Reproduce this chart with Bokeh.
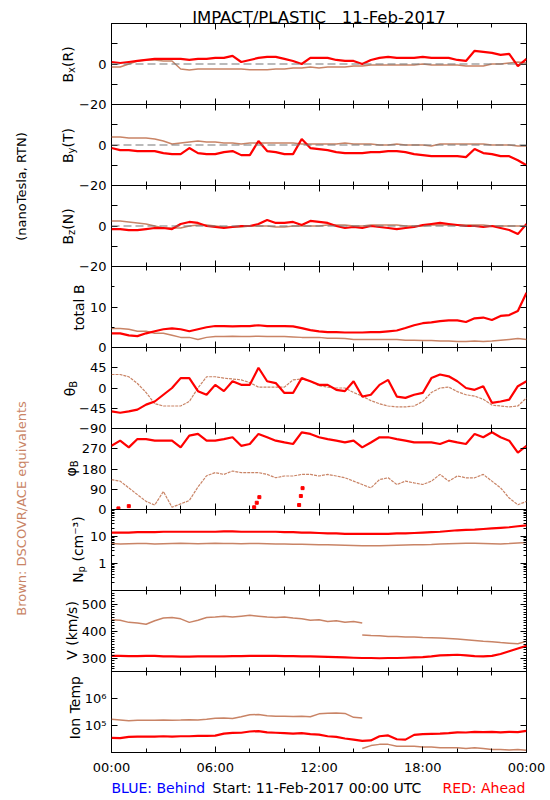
import numpy as np
from bokeh.plotting import figure
from bokeh.layouts import column, row
from bokeh.models import Range1d, FixedTicker, LinearAxis, LogAxis, Span
from bokeh.embed import file_html
from bokeh.resources import INLINE
from bokeh.core.properties import value

# ---------------- data (half-hour samples, 00:00 .. 24:00) ----------------
hours = np.arange(0, 24.01, 0.5)

bx_red = [1, 0.5, 1, 1.5, 2, 2.5, 2.5, 2.5, 2.5, 2, 2.5, 2.5,
          3, 3, 4, 1, 2, 3, 3.5, 3.5, 2.5, 1.5, 0, 3,
          3, 3, 2, 1.5, 1.5, 0, 2, 3, 3.5, 3, 3, 3,
          3.5, 3, 3, 3, 2, 1.5, 6.5, 6, 5.5, 4.5, 5, -1,
          2.5]
bx_brown = [-1.5, -1.5, 0, 1.5, 2, 2, 1.5, 1.5, -2.5, -3, -2.5, -2.5,
            -2.5, -2.5, -2.5, -2.5, -2.8, -2.8, -2.8, -2.5, -2.5, -2, -2, -1.5,
            -2, -1.5, -1.5, -1.5, -1, -1, -0.5, -0.5, -0.5, -0.5, -0.5, -0.5,
            0, -0.5, -0.5, -0.5, -0.5, -1, -1, -1, 0, 0, 0.5, 1,
            0.5]
by_red = [-1.5, -2.5, -2.5, -3, -3, -3, -4, -4.5, -4.5, -1.5, -4, -4.5,
          -4.5, -3.5, -3, -5, -5, 2, -3, -3.5, -4.5, -4.5, 3, -1.5,
          -2, -2.5, -3.5, -4, -4, -4, -3.5, -3.5, -3, -3, -3.5, -4.5,
          -5, -5.5, -5.5, -5.5, -5.5, -6, -2, -4, -4.5, -5.5, -5.5, -7.5,
          -10]
by_brown = [4, 4, 3.5, 3.5, 3.5, 3, 2, 0.5, 1, 1.5, 2, 1.5,
            1.5, 1, 1, 0.5, 1, 1, 1, 1, 1, 1, 0.5, 0.5,
            0.5, 0.5, 0.5, 1, 0.5, 0.5, 0.5, 0, 0, 0.5, 0, 0,
            0, -0.5, 0.5, 0.5, 0.5, 0.5, 0.5, 0.5, 0, 0, 0, -0.5,
            -0.5]
bz_red = [-1.5, -1.5, -2, -2, -1.5, -1, -1, -1.5, 1, 2, 1.5, 0,
          -0.5, -1, -0.5, 0, 0, 1, 3, 1.5, 1.5, 2, 0.5, 2.5,
          2, 1.5, 0, -1, -0.5, -1, 0, -0.5, -1, -1.5, -1, -0.5,
          0.5, 1, 1.5, 1, 0.5, 0, 0, -0.5, 0, -1, -2, -4,
          1]
bz_brown = [2.5, 2.5, 2, 1.5, 1, 0, -1, -1, -1, 0, 0.5, 0.5,
            0, -0.5, -0.5, -0.5, 0, 0, 0, -0.5, -0.5, 0, 0, 0,
            0, 0.5, 0.5, 0.5, 0, 0, 0.5, 0.5, 0.5, 0.5, 0, 0,
            0, 0.5, 0.5, 0.5, 0.5, 0.5, 0.5, 0.5, 0, 0, 0, 0,
            0]
bt_red = [3.5, 3.5, 3, 2.8, 3.5, 4, 4.5, 4.7, 4.5, 4, 4.5, 5,
          5.3, 5.3, 5.2, 5.3, 5.3, 5.5, 5.3, 5.3, 5.3, 5.2, 4.8, 4.3,
          4, 3.8, 3.8, 3.7, 3.7, 3.7, 3.8, 3.8, 4, 4.2, 4.8, 5.5,
          6, 6.2, 6.5, 6.7, 6.7, 6.3, 7.2, 7.4, 6.8, 7.8, 8, 9,
          13.5]
bt_brown = [4.7, 4.7, 4.5, 4, 4, 3.5, 3.5, 3, 2.5, 2.5, 2, 2.5,
            2.7, 2.7, 2.8, 2.7, 2.7, 2.8, 2.7, 2.7, 2.7, 2.6, 2.5, 2.5,
            2.5, 2.3, 2.3, 2.2, 2, 2, 2, 2, 2, 2, 1.8, 1.8,
            1.7, 1.7, 1.6, 1.6, 1.5, 1.5, 1.6, 1.5, 1.6, 1.8, 2, 2.2,
            2]
theta_red = [-52, -55, -52, -48, -37, -30, -15, 0, 22, 22, -7, -15,
             7, -7, 15, 7, 7, 45, 15, 11, -11, -11, 22, 15,
             7, 7, -4, -7, 15, -19, -15, 7, 18, -19, -22, -15,
             -11, 22, 30, 26, 15, 0, -4, 4, -33, -30, -26, 4,
             15]
theta_brown = [30, 30, 25, 10, -10, -35, -40, -40, -40, -30, 0, 25,
               25, 22, 20, 18, 12, 2, 2, 2, 2, 18, 20, 15,
               5, 2, 0, 0, -10, -18, -28, -35, -40, -42, -42, -40,
               -30, -10, 0, 2, -8, -15, -18, -25, -38, -40, -42, -40,
               -22]
phi_red = [283, 306, 276, 313, 313, 306, 306, 306, 276, 328, 336, 306,
           306, 313, 321, 283, 291, 336, 321, 306, 298, 291, 343, 336,
           321, 313, 306, 298, 306, 276, 298, 321, 321, 313, 306, 298,
           298, 298, 291, 306, 298, 291, 336, 321, 343, 321, 306, 253,
           283]
phi_brown = [133, 126, 96, 66, 36, 20, 80, 10, 25, 40, 100, 150,
             164, 156, 171, 164, 164, 164, 156, 141, 149, 149, 156, 156,
             149, 156, 149, 141, 126, 111, 96, 133, 141, 111, 126, 118,
             111, 126, 156, 126, 149, 141, 141, 156, 126, 96, 51, 21,
             36]
phi_red_wrap_hours = [0.4, 1.0, 8.25, 8.4, 8.55, 10.85, 10.95, 11.05]
phi_red_wrap = [5, 15, 10, 30, 55, 20, 60, 95]
np_red = [14, 14, 14, 14.5, 14.5, 14.5, 15, 15, 15, 15, 15, 15,
          15, 15.5, 15.5, 15, 15, 15, 15, 15, 14.5, 14.5, 14, 14,
          13.5, 13, 13, 12.5, 12.5, 12.5, 12.5, 12.5, 12.5, 13, 13, 13.5,
          14, 14.5, 15, 16, 17, 17.5, 18, 19, 20, 21, 22, 24,
          26]
np_brown = [5.5, 5.3, 5.4, 5.5, 5.5, 5.3, 5.4, 5.5, 5.6, 5.5, 5.4, 5.5,
            5.6, 5.5, 5.5, 5.4, 5.5, 5.5, 5.4, 5.3, 5.3, 5.2, 5.2, 5.1,
            5.0, 4.9, 4.8, 4.7, 4.6, 4.5, 4.5, 4.5, 4.6, 4.7, 4.8, 4.9,
            5.0, 5.1, 5.3, 5.4, 5.5, 5.6, 5.6, 5.5, 5.4, 5.3, 5.5, 5.8,
            6.0]
v_red = [308, 308, 307, 307, 308, 308, 306, 306, 305, 305, 306, 306,
         306, 306, 307, 307, 308, 308, 308, 308, 307, 307, 306, 306,
         305, 304, 303, 302, 301, 300, 300, 299, 300, 300, 301, 302,
         303, 306, 310, 311, 312, 310, 307, 306, 308, 315, 325, 335,
         345]
v_brown_a = [442, 440, 432, 430, 425, 438, 448, 450, 445, 432, 440, 450,
             452, 455, 452, 455, 458, 455, 452, 450, 452, 448, 445, 440,
             442, 435, 438, 432, 435, 430]            # 00:00 .. 14:30
v_brown_b = [385, 383, 382, 380, 380, 378, 378, 376, 375, 374,
             372, 370, 368, 365, 362, 360, 357, 355, 353, 362]   # 14:30 .. 24:00
t_red = [35000, 34000, 38000, 39000, 39000, 39000, 40000, 39000, 40000, 40000, 41000, 41000,
         42000, 50000, 53000, 54000, 60000, 62000, 56000, 54000, 52000, 50000, 52000, 48000,
         46000, 40000, 38000, 33000, 30000, 27000, 28000, 40000, 43000, 31000, 30000, 45000,
         48000, 49000, 50000, 52000, 56000, 55000, 58000, 57000, 58000, 56000, 58000, 57000,
         63000]
t_brown_a = [170000, 160000, 150000, 155000, 155000, 158000, 160000, 158000, 160000, 165000,
             160000, 170000, 185000, 190000, 180000, 210000, 250000, 255000, 230000, 220000,
             220000, 215000, 220000, 210000, 270000, 285000, 290000, 280000, 200000, 190000]
t_brown_b = [14000, 18000, 20000, 20000, 17000, 17000, 17000, 16000, 16000, 15000,
             15000, 15000, 14000, 15000, 14000, 13000, 13000, 12500, 13000, 12000]

x_major = [0, 6, 12, 18, 24]
x_minor = [0, 2, 4, 6, 8, 10, 12, 14, 16, 18, 20, 22, 24]
x_labels = {0: "00:00", 6: "06:00", 12: "12:00", 18: "18:00", 24: "00:00"}

# ---------------- styling ----------------
RED = "#ff0000"
BROWN = "#c98466"
FONT = "DejaVu Sans"
FRAME_W, FRAME_H = 415, 81
BL, BR, OV = 35, 19, 7
PAGE_W, PAGE_H = 545, 795          # background text layer, page pixels from the top-left
PANEL_W = BL + FRAME_W + BR
FRAME_LEFT, TOP = 111, 23          # page position of the first panel's frame


def style_axis(ax, labels=None, font_size="13px", standoff=5, tin=6, mtin=3):
    ax.axis_line_color = None
    ax.major_tick_in = tin
    ax.major_tick_out = 0
    ax.minor_tick_in = mtin
    ax.minor_tick_out = 0
    ax.major_tick_line_color = "black"
    ax.minor_tick_line_color = "black"
    if labels is not None:
        ax.major_label_overrides = labels
        ax.major_label_text_font = FONT
        ax.major_label_text_font_size = font_size
        ax.major_label_text_color = "black"
        ax.major_label_standoff = standoff
    else:
        ax.major_label_text_color = None
        ax.major_label_text_font_size = "1px"
        ax.major_label_standoff = 0


def make_panel(i, yr, log, ticks, minor, labels, last=False):
    kw = dict(frame_width=FRAME_W, frame_height=FRAME_H, x_range=Range1d(0, 24), y_range=yr,
              output_backend="svg", toolbar_location=None, tools="",
              x_axis_location=None, y_axis_location=None,
              min_border_left=BL, min_border_right=BR, min_border_top=0,
              min_border_bottom=(23 if last else OV),
              background_fill_color=None, border_fill_color=None,
              outline_line_color="black", outline_line_width=1)
    if log:
        kw["y_axis_type"] = "log"
    if i > 0:
        kw["margin"] = (-OV, 0, 0, 0)
    p = figure(**kw)
    p.grid.visible = False
    Ax = LogAxis if log else LinearAxis
    yt = FixedTicker(ticks=ticks, minor_ticks=minor)
    left = Ax(ticker=yt)
    style_axis(left, labels)
    p.add_layout(left, "left")
    right = Ax(ticker=yt)
    style_axis(right)
    p.add_layout(right, "right")
    xt = FixedTicker(ticks=x_major, minor_ticks=x_minor)
    below = LinearAxis(ticker=xt)
    style_axis(below, x_labels if last else None, standoff=7, tin=6, mtin=4)
    p.add_layout(below, "below")
    above = LinearAxis(ticker=xt)
    style_axis(above, None, tin=6, mtin=4)
    p.add_layout(above, "above")
    return p


def zero_line(p):
    p.add_layout(Span(location=0, dimension="width", line_color="#777777",
                      line_dash="8 4", line_width=1.2))


b_ticks = [-20, -10, 0, 10, 20]
b_labels = {-20: "\u221220", -10: "", 0: "0", 10: "", 20: ""}

panels = []
# Bx, By, Bz
for i, (rd, br) in enumerate([(bx_red, bx_brown), (by_red, by_brown), (bz_red, bz_brown)]):
    p = make_panel(i, Range1d(-20, 20), False, b_ticks, [], b_labels)
    zero_line(p)
    p.line(hours, br, line_color=BROWN, line_width=1.5)
    p.line(hours, rd, line_color=RED, line_width=2.2)
    panels.append(p)

# total B
p = make_panel(3, Range1d(0, 20), False, [0, 10, 20], [5, 15], {0: "0", 10: "10", 20: ""})
p.line(hours, bt_brown, line_color=BROWN, line_width=1.5)
p.line(hours, bt_red, line_color=RED, line_width=2.2)
panels.append(p)

# theta
p = make_panel(4, Range1d(-90, 90), False, [-90, -45, 0, 45, 90], [],
               {-90: "\u221290", -45: "\u221245", 0: "0", 45: "45", 90: ""})
p.line(hours, theta_brown, line_color=BROWN, line_width=1.2, line_dash="3 1")
p.line(hours, theta_red, line_color=RED, line_width=2.2)
panels.append(p)

# phi
p = make_panel(5, Range1d(0, 360), False, [0, 90, 180, 270, 360], [],
               {0: "0", 90: "90", 180: "180", 270: "270", 360: ""})
p.line(hours, phi_brown, line_color=BROWN, line_width=1.2, line_dash="3 1")
p.line(hours, phi_red, line_color=RED, line_width=2.2)
p.scatter(phi_red_wrap_hours, phi_red_wrap, marker="square", size=3, color=RED)
panels.append(p)

# Np (log)
np_minor = [0.2, 0.3, 0.4, 0.5, 0.6, 0.7, 0.8, 0.9, 2, 3, 4, 5, 6, 7, 8, 9,
            20, 30, 40, 50, 60, 70, 80, 90]
p = make_panel(6, Range1d(0.1, 100), True, [0.1, 1, 10, 100], np_minor,
               {0.1: "", 1: "1", 10: "10", 100: ""})
p.line(hours, np_brown, line_color=BROWN, line_width=1.5)
p.line(hours, np_red, line_color=RED, line_width=2.2)
panels.append(p)

# V
v_minor = list(range(250, 551, 10))
p = make_panel(7, Range1d(250, 550), False, [300, 400, 500], v_minor,
               {300: "300", 400: "400", 500: "500"})
p.line(hours[:30], v_brown_a, line_color=BROWN, line_width=1.5)
p.line(hours[29:], v_brown_b, line_color=BROWN, line_width=1.5)
p.line(hours, v_red, line_color=RED, line_width=2.2)
panels.append(p)

# Ion Temp (log)
p = make_panel(8, Range1d(1e4, 1e7), True, [10000, 100000, 1000000, 10000000], [],
               {10000: "", 100000: "10\u2075", 1000000: "10\u2076", 10000000: ""}, last=True)
p.line(hours[:30], t_brown_a, line_color=BROWN, line_width=1.5)
p.line(hours[29:], t_brown_b, line_color=BROWN, line_width=1.5)
p.line(hours, t_red, line_color=RED, line_width=2.2)
panels.append(p)

# ---------- background text layer (coordinates = page pixels, y negated) ----------
bg = figure(width=PAGE_W, height=PAGE_H, x_range=Range1d(0, PAGE_W),
            y_range=Range1d(-PAGE_H, 0), output_backend="svg",
            toolbar_location=None, tools="", x_axis_location=None, y_axis_location=None,
            min_border=0, outline_line_color=None, background_fill_color=None,
            border_fill_color=None)
bg.grid.visible = False


def txt(x, y, s, size, color="black", align="left", baseline="alphabetic", angle=0.0):
    bg.text(x=x, y=[-v for v in y], text=s, angle=angle, text_font=value(FONT),
            text_font_size=value(size), text_align=align, text_baseline=baseline,
            text_color=color)


# title
txt([318.5], [17], ["IMPACT/PLASTIC\u00a0\u00a0\u00a011-Feb-2017"], "16.5px", align="center")
# left rotated labels
txt([21], [186], ["(nanoTesla, RTN)"], "13px", align="center", baseline="middle",
    angle=np.pi / 2)
txt([21], [508], ["Brown: DSCOVR/ACE equivalents"], "13px", color=BROWN, align="center",
    baseline="middle", angle=np.pi / 2)

W_EM = {"B": .686, "x": .592, "y": .592, "z": .525, "(": .39, ")": .39, "R": .695,
        "T": .611, "N": .748, "t": .392, "o": .612, "a": .613, "l": .278, " ": .318,
        "\u03b8": .602, "\u03c6": .660, "p": .635, "c": .55, "m": .974, "\u207b": .54,
        "\u00b3": .401, "V": .684, "k": .579, "/": .337, "s": .521, "I": .295,
        "n": .634, "e": .615}
MAIN, SUB = 14, 10


def tw(s, size):
    return sum(W_EM.get(ch, 0.6) for ch in s.replace("\u00a0", " ")) * size


titles = [
    ([("B", 0), ("x", 1), ("(R)", 0)], 62, 64),
    ([("B", 0), ("y", 1), ("(T)", 0)], 62, 145),
    ([("B", 0), ("z", 1), ("(N)", 0)], 62, 226),
    ([("total\u00a0B", 0)], 73, 307),
    ([("\u03b8", 0), ("B", 1)], 64, 388),
    ([("\u03c6", 0), ("B", 1)], 65, 468),
    ([("N", 0), ("p", 1), ("\u00a0(cm\u207b\u00b3)", 0)], 72, 549),
    ([("V\u00a0(km/s)", 0)], 66, 630),
    ([("Ion\u00a0Temp", 0)], 69, 706),
]
mx, my, mt, sx, sy, st = [], [], [], [], [], []
for pieces, cx, cy in titles:
    L = sum(tw(t, SUB if s else MAIN) for t, s in pieces)
    pos = cy + L / 2
    bx = cx + 0.729 * MAIN / 2
    for t, s in pieces:
        if s:
            sx.append(bx + 3.5); sy.append(pos); st.append(t)
        else:
            mx.append(bx); my.append(pos); mt.append(t)
        pos -= tw(t, SUB if s else MAIN)
txt(mx, my, mt, "14px", angle=np.pi / 2)
txt(sx, sy, st, "10px", angle=np.pi / 2)

# bottom line
txt([111], [787], ["BLUE: Behind"], "14px", color="#0000ff")
txt([212], [787], ["Start: 11-Feb-2017 00:00 UTC"], "14px")
txt([525], [787], ["RED: Ahead"], "14px", color=RED, align="right")

panel_col = column(*panels, margin=(TOP, 0, 0, FRAME_LEFT - BL - PAGE_W))
layout = row(bg, panel_col)
open("out.html", "w").write(file_html(layout, INLINE))
